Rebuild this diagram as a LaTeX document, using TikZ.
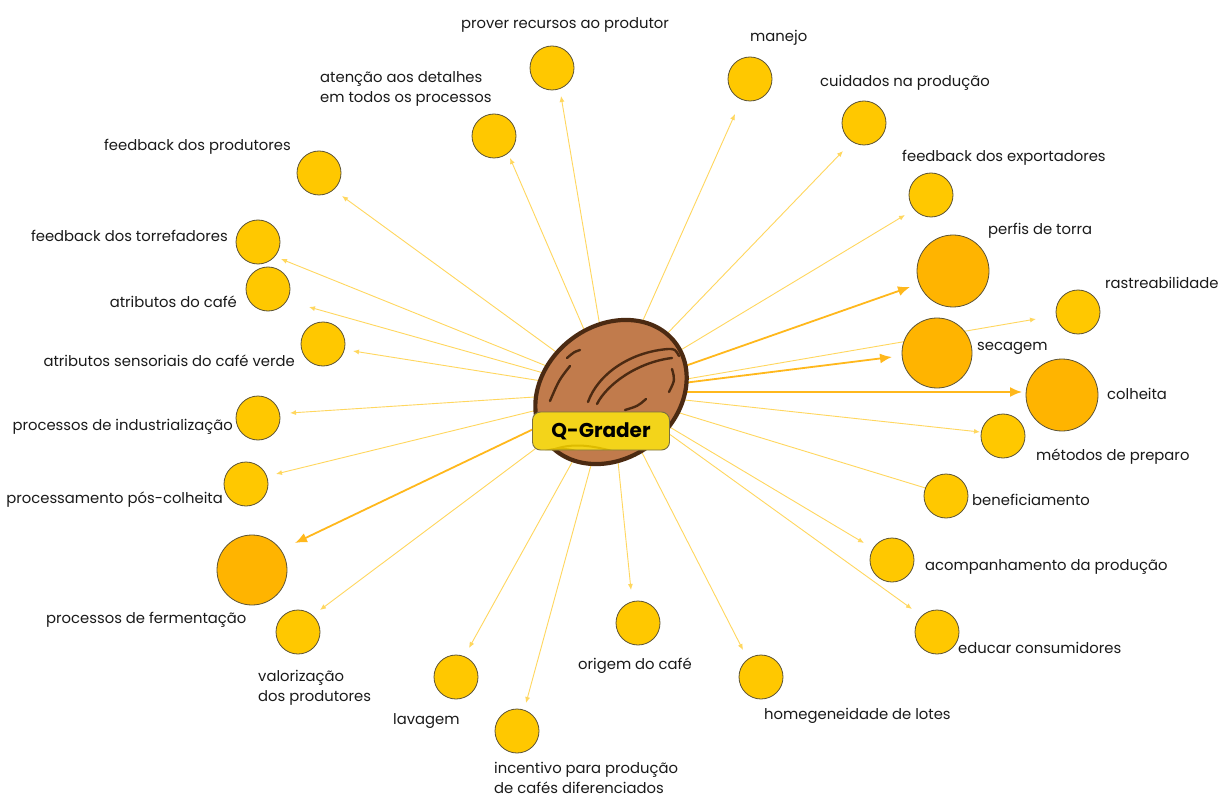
\documentclass[tikz,border=0pt]{standalone}
\usepackage{fontspec}
\setmainfont{Poppins}
\usetikzlibrary{shapes.geometric,arrows.meta}
\pgfdeclarelayer{back}
\pgfdeclarelayer{links}
\pgfsetlayers{back,links,main}

\definecolor{cyel}{HTML}{FFC800}
\definecolor{corange}{HTML}{FFB400}
\definecolor{cborder}{HTML}{5C5335}
\definecolor{linky}{HTML}{FFD75E}
\definecolor{linko}{HTML}{FFB81C}
\definecolor{beanfill}{HTML}{C17B4C}
\definecolor{beanline}{HTML}{4B2A12}
\definecolor{qfill}{HTML}{F3D41A}
\definecolor{qshade}{HTML}{DDBB00}
\definecolor{qline}{HTML}{7A7040}
\definecolor{ink}{HTML}{1A1A1A}

\begin{document}
\begin{tikzpicture}[x=1pt,y=-1pt,
  dot/.style={circle,draw=cborder,line width=0.8pt,fill=cyel,minimum size=44pt,inner sep=0pt},
  bigdot/.style={dot,fill=corange,minimum size=72pt},
  lbl/.style={font=\fontsize{14.8}{20}\selectfont,text=ink,inner sep=0pt},
  link/.style={draw=linky,line width=0.9pt,-{Latex[length=6pt,width=5pt]}},
  strong/.style={draw=linko,line width=1.8pt,-{Latex[length=12pt,width=10pt]}},
  crease/.style={draw=beanline,line width=2.4pt,line cap=round},
]
\begin{pgfonlayer}{back}
  \fill[white] (0,0) rectangle (1222,799);
\end{pgfonlayer}
\useasboundingbox (0,0) rectangle (1222,799);

% ---- topic circles ----
\node[dot]    (c1)  at (552,68)   {};
\node[dot]    (c2)  at (750,79)   {};
\node[dot]    (c3)  at (494,136)  {};
\node[dot]    (c4)  at (864,123)  {};
\node[dot]    (c5)  at (319,173)  {};
\node[dot]    (c6)  at (931,195)  {};
\node[bigdot] (c7)  at (953,271)  {};
\node[dot]    (c8)  at (258,242)  {};
\node[dot]    (c9)  at (1078,312) {};
\node[dot]    (c10) at (268,289)  {};
\node[bigdot,minimum size=70pt] (c11) at (937,353) {};
\node[dot]    (c12) at (323,344)  {};
\node[bigdot] (c13) at (1062,395) {};
\node[dot]    (c14) at (258,418)  {};
\node[dot]    (c15) at (1003,436) {};
\node[dot]    (c16) at (246,484)  {};
\node[dot]    (c17) at (946,496)  {};
\node[bigdot,minimum size=70pt] (c18) at (252,570) {};
\node[dot]    (c19) at (892,560)  {};
\node[dot]    (c20) at (298,632)  {};
\node[dot]    (c21) at (937,632)  {};
\node[dot]    (c22) at (638,623)  {};
\node[dot]    (c23) at (456,677)  {};
\node[dot]    (c24) at (761,677)  {};
\node[dot]    (c25) at (517,731)  {};

% ---- central coffee bean ----
\node[ellipse,draw=beanline,line width=4.2pt,fill=beanfill,
      minimum width=162pt,minimum height=132pt,inner sep=0pt,rotate=38]
      (bean) at (611,392) {};
\draw[crease] (580,350) .. controls (574,352) .. (567,358);
\draw[crease] (570,366) .. controls (559,380) .. (550,401);
\draw[crease] (588,402) .. controls (598,374) and (630,352) .. (668,349)
                        .. controls (675,349) .. (679,356);
\draw[crease] (597,404) .. controls (607,384) and (638,362) .. (672,358);
\draw[crease] (672,369) .. controls (675,380) .. (669,392);
\draw[crease] (646,399) .. controls (638,406) .. (625,410);

% ---- title plate ----
\node[draw=qline,line width=0.9pt,fill=qfill,rounded corners=8pt,
      minimum width=137pt,minimum height=38pt,inner sep=0pt,
      font=\fontsize{20}{20}\selectfont\bfseries,text=black,
      path picture={
        \draw[qshade,line width=3pt]
          ([xshift=4pt,yshift=-6pt]path picture bounding box.south west)
          .. controls +(40,-26) and +(-40,8) .. ([yshift=-30pt]path picture bounding box.south east);
        \draw[qshade,line width=2pt]
          ([xshift=20pt,yshift=0pt]path picture bounding box.south west)
          .. controls +(40,-16) and +(-30,2) .. ([yshift=-14pt]path picture bounding box.south east);
      }]
      (qg) at (601,431) {Q-Grader};

% ---- connectors ----
\coordinate (t1)  at (561,96);
\coordinate (t2)  at (735,114);
\coordinate (t3)  at (510,158);
\coordinate (t4)  at (843,151);
\coordinate (t5)  at (342,196);
\coordinate (t6)  at (905,215);
\coordinate (t7)  at (910,287);
\coordinate (t8)  at (281,259);
\coordinate (t9)  at (1036,319);
\coordinate (t10) at (309,307);
\coordinate (t11) at (892,357);
\coordinate (t12) at (353,351);
\coordinate (t13) at (1022,392);
\coordinate (t14) at (290,413);
\coordinate (t15) at (980,432);
\coordinate (t16) at (276,474);
\coordinate (t17) at (932,490);
\coordinate (t18) at (295,543);
\coordinate (t19) at (864,543);
\coordinate (t20) at (320,610);
\coordinate (t21) at (912,609);
\coordinate (t22) at (631,590);
\coordinate (t23) at (469,648);
\coordinate (t24) at (743,650);
\coordinate (t25) at (526,703);
\begin{pgfonlayer}{links}
  \foreach \t in {t1,t2,t3,t4,t5,t6,t8,t9,t10,t12,t14,t15,t16,t17,t19,t20,t21,t22,t23,t24,t25}
    \draw[link] (bean.center) -- (\t);
  \foreach \t in {t7,t11,t13,t18}
    \draw[strong] (bean.center) -- (\t);
\end{pgfonlayer}

% ---- labels ----
\node[lbl,anchor=base]      (l1)  at (565,29)   {prover recursos ao produtor};
\node[lbl,anchor=base west] (l2)  at (750,42)   {manejo};
\node[lbl,anchor=north west,align=left] (l3) at (320,71) {atenção aos detalhes\\em todos os processos};
\node[lbl,anchor=base west] (l4)  at (820,87)   {cuidados na produção};
\node[lbl,anchor=base east] (l5)  at (291,151)  {feedback dos produtores};
\node[lbl,anchor=base west] (l6)  at (902,162)  {feedback dos exportadores};
\node[lbl,anchor=base west] (l7)  at (988,235)  {perfis de torra};
\node[lbl,anchor=base east] (l8)  at (228,242)  {feedback dos torrefadores};
\node[lbl,anchor=base west] (l9)  at (1105,289) {rastreabilidade};
\node[lbl,anchor=base east] (l10) at (237,307)  {atributos do café};
\node[lbl,anchor=base west] (l11) at (977,350)  {secagem};
\node[lbl,anchor=base east] (l12) at (295,366)  {atributos sensoriais do café verde};
\node[lbl,anchor=base west] (l13) at (1107,399) {colheita};
\node[lbl,anchor=base east] (l14) at (233,430)  {processos de industrialização};
\node[lbl,anchor=base west] (l15) at (1036,460) {métodos de preparo};
\node[lbl,anchor=base east] (l16) at (223,503)  {processamento pós-colheita};
\node[lbl,anchor=base west] (l17) at (972,505)  {beneficiamento};
\node[lbl,anchor=base west] (l18) at (46,623)   {processos de fermentação};
\node[lbl,anchor=base west] (l19) at (925,570)  {acompanhamento da produção};
\node[lbl,anchor=north west,align=left] (l20) at (258,670) {valorização\\dos produtores};
\node[lbl,anchor=base west] (l21) at (958,653)  {educar consumidores};
\node[lbl,anchor=base west] (l22) at (578,669)  {origem do café};
\node[lbl,anchor=base west] (l23) at (393,724)  {lavagem};
\node[lbl,anchor=base west] (l24) at (764,719)  {homegeneidade de lotes};
\node[lbl,anchor=north west,align=left] (l25) at (494,762) {incentivo para produção\\de cafés diferenciados};
\end{tikzpicture}
\end{document}
